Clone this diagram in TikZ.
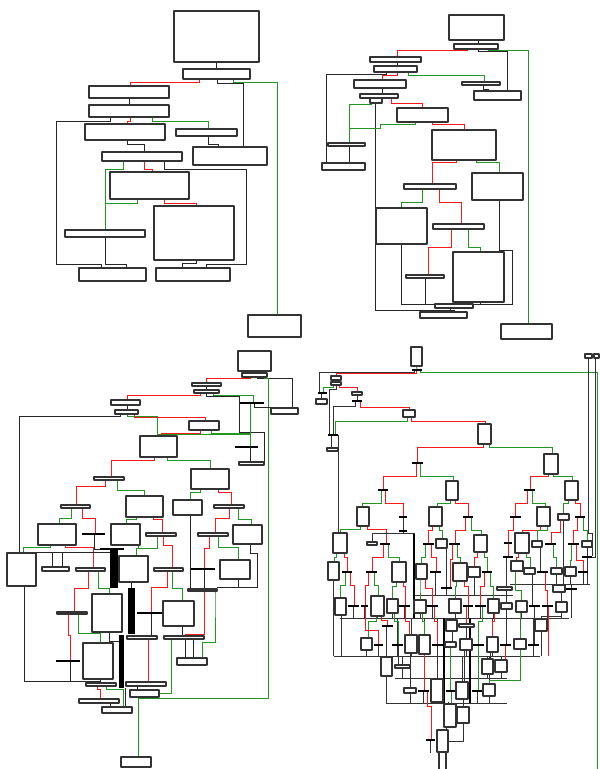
\documentclass[tikz,border=0pt]{standalone}
\usetikzlibrary{calc}
\pgfdeclarelayer{bg}
\pgfsetlayers{bg,main}
\definecolor{egred}{RGB}{250,25,25}
\definecolor{eggreen}{RGB}{35,150,35}
\tikzset{
  blk/.style={draw=black!80, line width=1.4pt, fill=white, inner sep=0pt, outer sep=0pt},
  barn/.style={fill=black, inner sep=0pt, outer sep=0pt, minimum height=2.6pt},
  ed/.style={black!85, line width=1pt},
  tr/.style={egred, line width=1pt},
  fa/.style={eggreen, line width=1pt},
  thk/.style={black, line width=1.6pt},
}
% khối theo hai góc, thanh ngang, cạnh gấp khúc
\newcommand{\bx}[5]{\node[blk, minimum width={(#4-#2)*1pt}, minimum height={(#5-#3)*1pt}] (#1) at ({(#2+#4)/2},{(#3+#5)/2}) {};}
\newcommand{\br}[4]{\node[barn, minimum width={(#3-#2)*1pt}] (#1) at ({(#2+#3)/2},#4) {};}
\newcommand{\edg}[6][ed]{\draw[#1] (#2.south -| #3,0) |- (#5,#4) -- (#6.north -| #5,0);}
\begin{document}
\begin{tikzpicture}[x=1pt, y=-1pt, line join=round]
\useasboundingbox (0,0) rectangle (600,769);

% ===== Khung 1 (trên trái) =====
\bx{pa}{174}{11}{259}{62}
\bx{pb}{183}{69}{250}{79}
\bx{pc}{89}{86}{169}{98}
\bx{pd}{89}{105}{169}{117}
\bx{pe}{85}{124}{165}{140}
\bx{pf}{176}{129}{237}{136}
\bx{pg}{193}{147}{267}{165}
\bx{ph}{102}{152}{182}{161}
\bx{pi}{110}{172}{189}{199}
\bx{pj}{65}{230}{145}{237}
\bx{pk}{154}{206}{234}{260}
\bx{pl}{79}{268}{146}{281}
\bx{pm}{156}{268}{230}{281}
\bx{pn}{248}{315}{301}{337}
\begin{pgfonlayer}{bg}
\draw[ed] (pa.south) -- (pb.north);
\edg[tr]{pb}{199}{82}{130}{pc}
\edg{pb}{217}{83}{243}{pg}
\edg[fa]{pb}{233}{82}{277}{pn}
\draw[ed] (pc.south) -- (pd.north);
\draw[ed] (pd.south -| 110,0) |- (56,121) |- (101,264) -- (pl.north -| 101,0);
\edg[tr]{pd}{130}{121}{127}{pe}
\edg[fa]{pd}{152}{121}{208}{pf}
\edg{pf}{208}{144}{218}{pg}
\edg{pe}{127}{144}{144}{ph}
\edg[fa]{ph}{123}{169}{105}{pj}
\edg[tr]{ph}{144}{169}{152}{pi}
\draw[ed] (ph.south -| 164,0) |- (246,169) |- (206,264) -- (pm.north -| 206,0);
\draw[fa] (pi.south -| 137,0) |- (105,203);
\edg[tr]{pi}{164}{203}{196}{pk}
\edg{pk}{196}{263}{182}{pm}
\edg{pj}{105}{264}{126}{pl}
\end{pgfonlayer}

% ===== Khung 2 (trên phải) =====
\bx{qa}{449}{15}{504}{40}
\bx{qb}{454}{44}{498}{49}
\bx{qc}{370}{57}{421}{62}
\bx{qd}{374}{66}{417}{72}
\bx{qe}{354}{80}{406}{88}
\bx{qf}{462}{82}{500}{85}
\bx{qg}{474}{91}{521}{100}
\bx{qh}{360}{94}{398}{98}
\bx{qhh}{370}{98}{382}{103}
\bx{qi}{328}{143}{365}{146}
\bx{qj}{322}{163}{365}{170}
\bx{qk}{397}{108}{448}{122}
\bx{ql}{432}{130}{496}{160}
\bx{qm}{404}{184}{456}{189}
\bx{qn}{472}{173}{523}{200}
\bx{qo}{376}{208}{427}{244}
\bx{qp}{433}{224}{484}{229}
\bx{qq}{406}{275}{444}{278}
\bx{qr}{453}{252}{504}{302}
\bx{qs}{435}{304}{473}{308}
\bx{qt}{420}{312}{467}{318}
\bx{qu}{501}{324}{552}{339}
\begin{pgfonlayer}{bg}
\draw[ed] (qa.south -| 478,0) -- (qb.north -| 478,0);
\edg[tr]{qb}{467}{50}{397}{qc}
\edg{qb}{478}{51}{507}{qg}
\edg[fa]{qb}{488}{50}{528}{qu}
\draw[ed] (qc.south -| 397,0) -- (qd.north -| 397,0);
\edg{qd}{386}{74}{326}{qj}
\edg[tr]{qd}{397}{75}{382}{qe}
\edg[fa]{qd}{408}{75}{484}{qf}
\edg{qf}{483}{89}{488}{qg}
\draw[ed] (qe.south -| 382,0) -- (qh.north -| 382,0);
\edg[fa]{qhh}{371}{104}{349}{qi}
\draw[ed] (qhh.south -| 375,0) |- (454,310) -- (qt.north -| 454,0);
\edg[tr]{qh}{391}{103}{422}{qk}
\draw[fa] (qk.south -| 415,0) |- (380,124) |- (349,128);
\edg[tr]{qk}{432}{124}{464}{ql}
\edg[tr]{ql}{456}{162}{432}{qm}
\edg[fa]{ql}{476}{162}{499}{qn}
\edg[fa]{qm}{422}{202}{401}{qo}
\edg[tr]{qm}{439}{202}{461}{qp}
\edg[tr]{qp}{451}{247}{428}{qq}
\edg[fa]{qp}{468}{247}{480}{qr}
\draw[ed] (qn.south -| 499,0) -- (499,250) -| (512,304) -- (qs.north east);
\draw[ed] (qo.south -| 401,0) |- (qs.north west);
\draw[ed] (qq.south) -- (qq.south |- qs.north);
\draw[ed] (qr.south -| 480,0) -- (qs.north -| 480,0);
\draw[ed] (qs.south -| 450,0) -- (qt.north -| 450,0);
\draw[ed] (qi.south -| 349,0) -- (qj.north -| 349,0);
\end{pgfonlayer}

% ===== Khung 3 (dưới trái) =====
\bx{s1}{238}{351}{271}{371}
\bx{s2}{242}{373}{267}{377}
\bx{s3}{192}{383}{221}{386}
\bx{s4}{194}{390}{219}{393}
\bx{s5}{111}{400}{140}{405}
\bx{s6}{115}{410}{138}{414}
\bx{s7}{271}{408}{298}{414}
\bx{s8}{189}{421}{219}{430}
\bx{s9}{140}{436}{177}{457}
\bx{s10}{239}{462}{264}{465}
\br{b1}{240}{264}{403}
\br{b2}{235}{258}{447}
\bx{s11}{94}{477}{124}{480}
\bx{s12}{191}{469}{229}{489}
\bx{s13}{61}{505}{90}{508}
\bx{s14}{126}{496}{163}{517}
\bx{s15}{173}{500}{202}{515}
\bx{s16}{214}{505}{244}{508}
\bx{s17}{38}{524}{76}{545}
\br{b3}{82}{105}{534}
\bx{s18}{111}{524}{140}{545}
\bx{s19}{146}{533}{176}{536}
\bx{s20}{198}{533}{228}{536}
\bx{s21}{233}{525}{262}{544}
\bx{s22}{7}{553}{36}{586}
\bx{s23}{42}{567}{69}{571}
\bx{s24}{76}{568}{105}{571}
\br{b4}{100}{124}{549}
\bx{s25}{119}{556}{148}{582}
\bx{s26}{154}{568}{183}{571}
\br{b5}{191}{215}{569}
\bx{s27}{220}{560}{250}{579}
\bx{s28}{188}{589}{217}{591}
\bx{s29}{92}{594}{122}{632}
\bx{s30}{57}{612}{87}{614}
\br{b6}{137}{162}{613}
\bx{s31}{163}{601}{194}{626}
\bx{s32}{127}{636}{157}{639}
\bx{s33}{164}{636}{204}{639}
\bx{s34}{177}{658}{207}{665}
\bx{s35}{83}{643}{113}{679}
\br{b7}{56}{80}{661}
\bx{s37}{86}{683}{116}{686}
\bx{s38}{126}{682}{166}{686}
\bx{s39}{130}{690}{159}{697}
\bx{s40}{79}{699}{119}{703}
\bx{s41}{102}{707}{132}{713}
\bx{s42}{121}{757}{151}{767}
\begin{pgfonlayer}{bg}
\fill (110,548) rectangle (118,588);
\fill (128,588) rectangle (135,634);
\fill (119,635) rectangle (124,688);
\draw[ed] (s1.south) -- (s2.north);
\edg[tr]{s2}{250}{378}{206}{s3}
\edg{s2}{257}{378}{292}{s7}
\draw[fa] (s2.south -| 264,0) |- (268,378) |- (138,698) -- (s42.north -| 138,0);
\draw[ed] (s3.south -| 206,0) -- (s4.north -| 206,0);
\edg[tr]{s4}{200}{395}{127}{s5}
\draw[ed] (s4.south -| 206,0) |- (239,396) -- (239,432) -| (s10.north east);
\edg[fa]{s4}{213}{395}{253}{b1}
\edg{b1}{254}{407}{275}{s7}
\draw[fa] (b1.south -| 250,0) -- (b2.north -| 250,0);
\draw[fa] (b1.south -| 250,0) |- (157,434) -- (s9.north -| 157,0);
\draw[ed] (s5.south -| 127,0) -- (s6.north -| 127,0);
\edg{s6}{120}{416}{19}{s22}
\edg[fa]{s6}{127}{416}{157}{s9}
\edg[tr]{s6}{134}{417}{205}{s8}
\edg[tr]{s8}{200}{433}{161}{s9}
\draw[fa] (s8.south -| 211,0) |- (250,433);
\draw[ed] (b2.south -| 250,0) -- (s10.north -| 250,0);
\edg[tr]{s9}{154}{460}{111}{s11}
\edg[fa]{s9}{167}{460}{210}{s12}
\edg[tr]{s11}{105}{486}{76}{s13}
\edg[fa]{s11}{117}{490}{144}{s14}
\edg[fa]{s12}{200}{492}{190}{s15}
\edg[tr]{s12}{218}{492}{231}{s16}
\edg[fa]{s13}{71}{518}{59}{s17}
\edg[tr]{s13}{82}{518}{95}{b3}
\draw[ed] (b3.south -| 94,0) |- (b4.west);
\edg[fa]{s14}{136}{519}{126}{s18}
\edg[tr]{s14}{153}{519}{162}{s19}
\draw[ed] (s15.south -| 190,0) -- (s28.north -| 190,0);
\edg[tr]{s16}{229}{518}{215}{s20}
\edg[fa]{s16}{238}{519}{251}{s21}
\edg[fa]{s17}{50}{547}{23}{s22}
\edg[tr]{s17}{65}{547}{93}{s24}
\draw[ed] (s22.north east |- 0,552) -- (110,552);
\draw[ed] (52,552) -- (s23.north -| 52,0);
\draw[ed] (62,552) -- (s23.north -| 62,0);
\edg[fa]{s18}{138}{548}{136}{s25}
\draw[fa] (s19.south -| 157,0) |- (136,548);
\edg[tr]{s19}{163}{545}{172}{s26}
\edg[tr]{s20}{209}{548}{204}{b5}
\edg[fa]{s20}{218}{547}{238}{s27}
\draw[ed] (s21.south -| 250,0) |- (257,553) |- (217,587);
\draw[ed] (s27.south -| 238,0) -- (238,587);
\draw[ed] (b5.south -| 204,0) -- (s28.north -| 204,0);
\draw[ed] (s25.south -| 131,0) -- (131,588);
\edg[tr]{s24}{88}{588}{74}{s30}
\edg[fa]{s24}{98}{588}{109}{s29}
\edg[tr]{s26}{167}{587}{151}{b6}
\edg[fa]{s26}{172}{588}{182}{s31}
\edg[tr]{s28}{204}{634}{185}{s33}
\draw[fa] (s28.south -| 212,0) -| (215,593) |- (202,642) -- (s34.north -| 202,0);
\draw[ed] (s33.south -| 185,0) -- (s34.north -| 185,0);
\draw[ed] (s33.south -| 193,0) -- (s34.north -| 193,0);
\draw[ed] (s31.south -| 182,0) -- (s33.north -| 182,0);
\draw[ed] (b6.south -| 151,0) -- (s32.north -| 151,0);
\edg[tr]{s30}{68}{635}{70}{b7}
\edg[fa]{s30}{78}{633}{100}{s35}
\draw[ed] (b7.south -| 70,0) -- (70,681);
\draw[ed] (s22.south -| 24,0) |- (100,681) -- (s37.north -| 100,0);
\draw[ed] (s29.south -| 109,0) |- (119,641);
\draw[ed] (s35.south -| 100,0) -- (s37.north -| 100,0);
\edg[tr]{s37}{97}{689}{100}{s40}
\edg[fa]{s37}{106}{689}{123}{s41}
\draw[ed] (s40.south -| 110,0) -- (s41.north -| 110,0);
\draw[ed] (s38.south -| 137,0) -- (s39.north -| 137,0);
\draw[tr] (s32.south -| 148,0) -- (s38.north -| 148,0);
\draw[fa] (s33.south -| 171,0) |- (s39.east);
\draw[ed] (s41.north -| 125,0) -- (125,688);
\end{pgfonlayer}

% ===== Khung 4 (dưới phải) =====
\begin{scope}[blk/.append style={line width=1.1pt},
  ed/.style={black!80, line width=0.8pt},
  tr/.style={egred, line width=0.8pt},
  fa/.style={eggreen, line width=0.8pt}]
\coordinate (exitg) at (597,769);
\bx{t1}{411}{347}{422}{366}
\br{u1}{412}{422}{370}
\bx{tA}{585}{354}{592}{358}
\bx{tB}{594}{354}{599}{358}
\bx{t2}{331}{376}{341}{380}
\bx{t3}{331}{382}{341}{385}
\bx{t4}{316}{399}{327}{404}
\br{u2}{318}{327}{393}
\bx{t5}{352}{392}{362}{395}
\br{u3}{352}{362}{401}
\bx{t6}{403}{410}{415}{417}
\bx{t7}{478}{424}{491}{444}
\br{u4}{328}{338}{435}
\bx{t8}{327}{448}{338}{451}
\bx{t9}{544}{454}{558}{474}
\br{u5}{412}{423}{463}
\br{u6}{378}{388}{490}
\bx{t10}{446}{481}{458}{500}
\br{u7}{524}{535}{490}
\bx{t11}{565}{481}{578}{500}
\bx{t12}{357}{507}{369}{526}
\br{u8}{399}{407}{517}
\br{u9}{399}{407}{531}
\bx{t13}{429}{507}{442}{526}
\br{u10}{463}{473}{517}
\br{u11}{510}{521}{517}
\bx{t14}{537}{507}{550}{526}
\bx{t15}{558}{514}{569}{520}
\br{u12}{575}{585}{517}
\bx{t16}{333}{533}{347}{553}
\bx{t17}{367}{542}{377}{545}
\br{u13}{380}{390}{544}
\br{u14}{423}{434}{544}
\bx{t18}{436}{539}{447}{548}
\br{u15}{449}{460}{544}
\bx{t19}{474}{535}{487}{552}
\br{u16}{504}{512}{543}
\bx{t20}{515}{533}{529}{553}
\bx{t21}{532}{541}{542}{547}
\br{u17}{545}{556}{544}
\br{u18}{568}{579}{544}
\bx{t22}{582}{541}{592}{547}
\bx{t23}{328}{562}{339}{580}
\br{u19}{342}{352}{572}
\br{u20}{366}{377}{572}
\bx{t24}{392}{562}{406}{582}
\bx{t25}{416}{564}{427}{579}
\br{u21}{430}{441}{572}
\br{u22}{441}{452}{588}
\bx{t26}{453}{563}{467}{581}
\bx{t27}{468}{567}{480}{577}
\br{u23}{482}{492}{572}
\br{u24}{503}{513}{557}
\bx{t28}{497}{587}{512}{590}
\bx{t29}{511}{561}{523}{571}
\bx{t30}{524}{568}{535}{574}
\br{u25}{537}{548}{572}
\bx{t31}{551}{568}{562}{574}
\bx{t32}{565}{567}{576}{576}
\br{u26}{578}{588}{572}
\br{u27}{582}{592}{557}
\bx{t33}{553}{585}{565}{592}
\br{u28}{566}{577}{589}
\bx{t34}{335}{598}{346}{615}
\br{u29}{348}{359}{606}
\br{u30}{361}{368}{606}
\bx{t35}{371}{596}{384}{616}
\bx{t36}{387}{599}{398}{613}
\br{u31}{399}{410}{606}
\bx{t37}{414}{600}{426}{613}
\br{u32}{427}{438}{606}
\bx{t38}{449}{599}{461}{613}
\br{u33}{463}{473}{606}
\br{u34}{475}{486}{606}
\bx{t39}{488}{599}{499}{613}
\bx{t40}{501}{603}{512}{609}
\bx{t41}{516}{601}{527}{612}
\br{u35}{529}{540}{606}
\br{u36}{542}{553}{606}
\bx{t42}{556}{602}{567}{612}
\bx{t43}{535}{619}{547}{631}
\bx{t44}{446}{620}{457}{631}
\bx{t45}{459}{624}{474}{627}
\br{u37}{382}{393}{626}
\bx{t46}{361}{638}{372}{650}
\br{u38}{374}{383}{645}
\br{u39}{392}{403}{645}
\bx{t47}{405}{635}{417}{653}
\bx{t48}{419}{635}{430}{654}
\br{u40}{432}{443}{645}
\bx{t49}{445}{642}{456}{647}
\bx{t50}{460}{639}{472}{650}
\br{u41}{473}{484}{645}
\bx{t51}{487}{637}{498}{652}
\br{u42}{500}{511}{645}
\bx{t52}{514}{639}{526}{649}
\br{u43}{528}{539}{645}
\bx{t53}{381}{657}{392}{676}
\bx{t54}{395}{665}{410}{668}
\bx{t55}{482}{659}{493}{674}
\bx{t56}{495}{660}{507}{672}
\bx{t57}{404}{688}{416}{693}
\br{u44}{418}{429}{691}
\bx{t58}{431}{679}{443}{702}
\br{u45}{446}{455}{691}
\bx{t59}{456}{682}{468}{699}
\br{u46}{472}{483}{691}
\bx{t60}{483}{684}{495}{696}
\bx{t61}{444}{704}{456}{727}
\bx{t62}{457}{707}{469}{723}
\bx{t63}{437}{730}{448}{752}
\br{u47}{426}{435}{740}
\begin{pgfonlayer}{bg}
% đường gom màu đen
\draw[ed] (413,595) -- (513,595);
\draw[ed] (510,584) -- (590,584);
\draw[ed] (340,618) -- (569,618);
\draw[ed] (334,656) -- (540,656);
\draw[ed] (395,678) -- (507,678);
\draw[ed] (386,703) -- (507,703);
\draw[thk] (414,533) -- (414,618);
\draw[thk] (444,618) -- (444,703);
\draw[thk] (470,618) -- (470,703);
\foreach \n in {t27,u21,u22} \draw[ed] (\n.south) -- (\n.south |- 0,595);
\foreach \n in {t31,t32,u26,u27} \draw[ed] (\n.south) -- (\n.south |- 0,584);
\draw[ed] (u28.north) -- (u28.north |- 0,584);
\draw[ed] (u28.south) -- (u28.south |- 0,618);
\draw[ed] (t23.south) -- (t23.south |- 0,656);
\draw[ed] (t34.south -| 341,0) -- (341,656);
\foreach \n in {u29,u30,t35,t36,u31,t37,u32,t38,u33,u34,t39,t40,t41,u35,u36,t42}
  \draw[ed] (\n.south) -- (\n.south |- 0,618);
\foreach \n in {t44,u39,t47,t48,u40,t51,t52,u43}
  \draw[ed] (\n.north) -- (\n.north |- 0,618);
\foreach \n in {t46,u38,u39,t47,t48,u40,t49,t50,u41,t51,u42,t52,u43,t43}
  \draw[ed] (\n.south) -- (\n.south |- 0,656);
\foreach \n in {t53,t54,t58,t59,t55,t56,t60}
  \draw[ed] (\n.north) -- (\n.north |- 0,656);
\foreach \n in {t54,t55,t56} \draw[ed] (\n.south) -- (\n.south |- 0,678);
\foreach \n in {t53,t57,u44,u46,t60} \draw[ed] (\n.south) -- (\n.south |- 0,703);
% cạnh
\draw[ed] (t1.south) -- (u1.north);
\edg{u1}{414}{372}{319}{u2}
\draw[fa] (u1.south -| 420,0) |- (597,372) -- (exitg);
\edg[tr]{u1}{416}{373}{336}{t2}
\draw[ed] (tA.south) -- (tA.south |- 0,533) -| (u27.north east);
\draw[ed] (tB.south -| 595,0) |- (u27.east);
\draw[ed] (t2.south) -- (t3.north);
\edg[fa]{t3}{333}{387}{323}{u2}
\edg[tr]{t3}{339}{387}{357}{t5}
\edg{t3}{336}{389}{329}{u4}
\draw[ed] (u2.south -| 321,0) -- (t4.north -| 321,0);
\draw[ed] (t5.south) -- (u3.north);
\edg{u3}{355}{406}{333}{u4}
\edg[tr]{u3}{360}{407}{409}{t6}
\edg[fa]{t6}{407}{421}{335}{u4}
\draw[ed] (u4.east) -- (t16.north -| 338,0);
\draw[ed] (u4.south -| 331,0) -- (t8.north -| 331,0);
\edg[tr]{t6}{411}{421}{485}{t7}
\edg[tr]{t7}{483}{447}{417}{u5}
\edg[fa]{t7}{489}{447}{552}{t9}
\edg[tr]{u5}{416}{476}{383}{u6}
\edg[fa]{u5}{420}{476}{453}{t10}
\edg[tr]{t9}{548}{476}{530}{u7}
\edg[fa]{t9}{553}{476}{572}{t11}
\edg[fa]{u6}{381}{503}{362}{t12}
\edg[tr]{u6}{385}{503}{403}{u8}
\draw[ed] (u8.south) -- (u9.north);
\edg[fa]{t10}{450}{503}{437}{t13}
\edg[tr]{t10}{455}{503}{468}{u10}
\edg[tr]{u7}{527}{503}{515}{u11}
\edg[fa]{u7}{532}{503}{545}{t14}
\edg[fa]{t11}{568}{503}{563}{t15}
\edg[tr]{t11}{575}{503}{580}{u12}
\edg[fa]{t12}{360}{529}{340}{t16}
\edg[tr]{t12}{367}{529}{386}{u13}
\draw[ed] (t17.north) |- (415,533);
\draw[ed] (u9.south) -- (u9.south |- 0,533);
\edg[tr]{t13}{432}{530}{428}{u14}
\edg[fa]{t13}{439}{530}{442}{t18}
\edg[tr]{u10}{465}{530}{455}{u15}
\edg[fa]{u10}{471}{530}{481}{t19}
\edg[tr]{u11}{513}{530}{508}{u16}
\edg[tr]{t14}{540}{530}{522}{t20}
\edg[fa]{t14}{547}{530}{537}{t21}
\draw[tr] (t15.south -| 560,0) |- (551,532) -- (u17.north -| 551,0);
\draw[ed] (t15.south -| 563,0) -- (t33.north -| 563,0);
\edg[tr]{u12}{577}{530}{573}{u18}
\edg[fa]{u12}{583}{530}{587}{t22}
\edg[fa]{t16}{336}{557}{334}{t23}
\edg[tr]{t16}{344}{557}{347}{u19}
\edg[tr]{u13}{383}{557}{372}{u20}
\edg[fa]{u13}{388}{557}{399}{t24}
\edg[fa]{u14}{425}{557}{421}{t25}
\edg[tr]{u14}{431}{557}{436}{u21}
\draw[ed] (t18.south -| 446,0) -- (u22.north -| 446,0);
\edg[fa]{u15}{457}{557}{460}{t26}
\edg[tr]{u15}{452}{559}{450}{u22}
\edg[tr]{t19}{477}{557}{474}{t27}
\edg[fa]{t19}{484}{557}{487}{u23}
\draw[tr] (u16.south -| 508,0) -- (u24.north -| 508,0);
\draw[ed] (u24.south -| 506,0) -- (t28.north -| 506,0);
\edg[tr]{t20}{518}{557}{516}{t29}
\edg[fa]{t20}{526}{557}{530}{t30}
\draw[ed] (t21.south -| 540,0) -- (u25.north -| 540,0);
\edg[fa]{u17}{553}{557}{556}{t31}
\edg[fa]{u18}{571}{560}{570}{t32}
\edg[tr]{u18}{576}{560}{583}{u26}
\draw[ed] (t22.south -| 587,0) -- (u27.north -| 587,0);
\edg[fa]{u19}{345}{585}{340}{t34}
\edg[tr]{u19}{350}{585}{354}{u29}
\edg[tr]{u20}{368}{585}{365}{u30}
\edg[fa]{u20}{374}{585}{378}{t35}
\edg[fa]{t24}{396}{586}{392}{t36}
\edg[tr]{t24}{403}{586}{405}{u31}
\edg[fa]{t25}{420}{586}{420}{t37}
\edg[tr]{t25}{425}{588}{432}{u32}
\edg[fa]{t26}{456}{586}{455}{t38}
\edg[tr]{t26}{464}{586}{468}{u33}
\edg[tr]{u23}{484}{586}{480}{u34}
\edg[fa]{u23}{490}{586}{493}{t39}
\draw[ed] (t28.south -| 506,0) -- (t40.north -| 506,0);
\edg[fa]{t29}{515}{590}{521}{t41}
\draw[ed] (t30.south -| 532,0) -- (u35.north -| 532,0);
\edg[tr]{u25}{545}{590}{547}{u36}
\draw[ed] (t33.south -| 561,0) -- (t42.north -| 561,0);
\edg[fa]{t35}{376}{621}{368}{t46}
\edg[tr]{t35}{381}{620}{387}{u37}
\draw[ed] (u37.south -| 386,0) -- (t53.north -| 386,0);
\draw[tr] (u30.south -| 365,0) |- (378,630) -- (u38.north -| 378,0);
\edg[fa]{t36}{394}{621}{398}{u39}
\edg[tr]{u31}{405}{621}{409}{t47}
\edg[fa]{t37}{422}{621}{424}{t48}
\edg[tr]{u32}{434}{621}{437}{u40}
\draw[ed] (t44.south -| 452,0) -- (t49.north -| 452,0);
\draw[tr] (u33.south -| 466,0) -- (t45.north -| 466,0);
\draw[ed] (t45.south -| 466,0) -- (t50.north -| 466,0);
\edg[fa]{u34}{482}{621}{478}{u41}
\edg[tr]{t39}{494}{621}{492}{t51}
\draw[ed] (t40.south -| 506,0) -- (u42.north -| 506,0);
\edg[fa]{t41}{520}{622}{520}{t52}
\draw[ed] (u35.south -| 534,0) -- (u43.north -| 534,0);
\draw[ed] (t42.south -| 561,0) |- (541,616) -- (t43.north -| 541,0);
\draw[tr] (u36.south -| 548,0) -- (548,656);
\draw[ed] (u39.south -| 398,0) -- (t54.north -| 398,0);
\draw[ed] (t47.south -| 410,0) -- (t57.north -| 410,0);
\draw[tr] (t48.south -| 424,0) -- (u44.north -| 424,0);
\draw[ed] (u40.south -| 437,0) -- (t58.north -| 437,0);
\draw[fa] (t49.south -| 450,0) -- (u45.north -| 450,0);
\draw[ed] (t50.south -| 464,0) -- (t59.north -| 464,0);
\draw[fa] (u41.south -| 478,0) -- (u46.north -| 478,0);
\draw[ed] (t51.south -| 490,0) -- (t55.north -| 490,0);
\draw[tr] (u42.south -| 505,0) -- (t56.north -| 505,0);
\draw[fa] (t52.south -| 520,0) |- (489,680) -- (t60.north -| 489,0);
\draw[ed] (t58.south -| 448,0) -- (t61.north -| 448,0);
\draw[ed] (t59.south -| 463,0) -- (t62.north -| 463,0);
\draw[tr] (u44.south -| 427,0) |- (431,706) -- (u47.north -| 431,0);
\draw[fa] (u45.south -| 451,0) -- (t61.north -| 451,0);
\draw[ed] (t61.south -| 446,0) -- (t63.north -| 446,0);
\draw[ed] (t62.south -| 463,0) |- (t63.east);
\draw[ed] (u47.south -| 430,0) -- (430,753);
\draw[ed, line width=1.4pt] (t63.south -| 439,0) -- (439,769);
\draw[ed, line width=1.4pt] (t63.south -| 446,0) -- (446,769);
\end{pgfonlayer}
\end{scope}
\end{tikzpicture}
\end{document}
